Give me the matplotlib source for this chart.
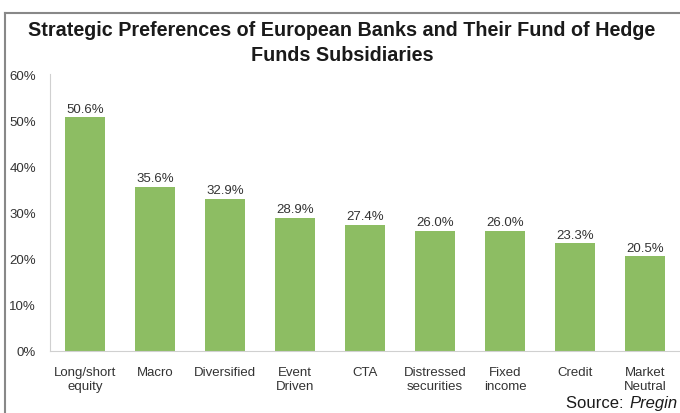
import matplotlib.pyplot as plt
from matplotlib.lines import Line2D

plt.rcParams["font.family"] = ["Liberation Sans", "DejaVu Sans"]

categories = ["Long/short\nequity", "Macro", "Diversified", "Event\nDriven", "CTA",
              "Distressed\nsecurities", "Fixed\nincome", "Credit", "Market\nNeutral"]
values = [50.6, 35.6, 32.9, 28.9, 27.4, 26.0, 26.0, 23.3, 20.5]
yticks = [0, 10, 20, 30, 40, 50, 60]

_BAR = "#8dbd63"
_TXT = "#333333"
_AX = "#d0d0d0"

fig = plt.figure(figsize=(6.8, 4.14), dpi=100)
ax = fig.add_axes([50 / 680, 62 / 414, 630 / 680, 277 / 414])

x = range(len(values))
ax.bar(x, values, width=0.57, color=_BAR)
for i, v in zip(x, values):
    ax.annotate(f"{v:.1f}%", (i, v), xytext=(0, 2), textcoords="offset points",
                ha="center", va="bottom", fontsize=9.5, color=_TXT)

ax.set_xlim(-0.5, len(values) - 0.5)
ax.set_ylim(0, 60)
ax.set_yticks(yticks)
ax.set_yticklabels([f"{t}%" for t in yticks], fontsize=9.5, color=_TXT)
ax.set_xticks(list(x))
ax.set_xticklabels(categories, fontsize=9.5, color=_TXT, linespacing=1.15)
ax.tick_params(length=0, pad=10)
ax.tick_params(axis="x", pad=11)
for s in ("top", "right"):
    ax.spines[s].set_visible(False)
ax.spines["left"].set_color(_AX)
ax.spines["bottom"].set_color(_AX)

fig.text(342 / 680, 1 - 30 / 414, "Strategic Preferences of European Banks and Their Fund of Hedge",
         ha="center", va="center", fontsize=14.2, fontweight="bold", color="#1a1a1a")
fig.text(342 / 680, 1 - 56 / 414, "Funds Subsidiaries",
         ha="center", va="center", fontsize=14.2, fontweight="bold", color="#1a1a1a")

# source line
fig.text(678 / 680, 3 / 414, "Pregin", ha="right", va="bottom", fontsize=12,
         style="italic", color="#1a1a1a")
fig.text(628 / 680, 3 / 414, "Source: ", ha="right", va="bottom", fontsize=12,
         color="#1a1a1a")

# outer frame (top and left)
fig.add_artist(Line2D([5 / 680, 1], [1 - 14 / 414] * 2, color="#888888", lw=1.5))
fig.add_artist(Line2D([5 / 680] * 2, [0, 1 - 14 / 414], color="#888888", lw=1.5))

fig.savefig("out.png", dpi=100)
